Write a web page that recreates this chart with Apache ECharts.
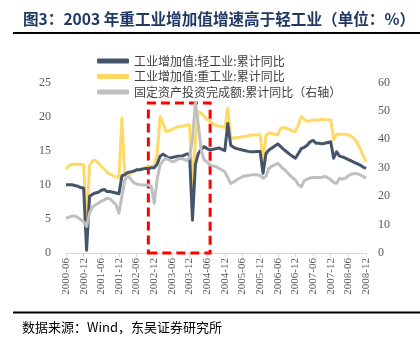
<!DOCTYPE html>
<html><head><meta charset="utf-8">
<script src="https://cdn.jsdelivr.net/npm/echarts@6/dist/echarts.min.js"></script>
<style>html,body{margin:0;padding:0;background:#fff}#c{width:420px;height:348px}</style>
</head><body><div id="c"></div>
<script>
// categories: monthly 2000-06 .. 2008-12
const categories = [];
for (let y = 2000; y <= 2008; y++) {
  for (let m = 1; m <= 12; m++) {
    if (y === 2000 && m < 6) continue;
    categories.push(y + '-' + (m < 10 ? '0' + m : '' + m));
  }
}
const seriesNames = ['工业增加值:轻工业:累计同比', '工业增加值:重工业:累计同比', '固定资产投资完成额:累计同比（右轴）'];
const lightIndustry = [
  10.0,10.0,10.0,9.9,9.8,9.6,9.5,0.4,8.3,8.6,8.8,8.9,
  9.2,9.3,9.0,9.0,8.9,8.8,8.7,11.3,11.5,11.8,11.9,12.0,
  12.2,12.2,12.3,12.4,12.4,12.5,12.5,13.0,14.2,14.5,14.2,13.9,
  14.0,14.1,14.2,14.2,14.3,14.5,14.5,4.8,13.0,14.6,15.2,15.6,
  15.3,15.1,15.2,15.3,15.4,15.2,15.0,19.0,15.8,15.5,15.3,15.2,
  15.1,15.0,14.9,14.85,14.85,14.9,14.9,11.7,14.6,15.1,15.4,15.7,
  16.0,15.6,15.2,14.85,14.5,14.2,13.9,14.6,15.3,15.5,15.8,16.3,
  16.5,16.1,16.1,16.0,16.1,16.2,16.3,13.9,14.85,14.2,14.1,13.9,
  13.7,13.5,13.3,13.1,12.9,12.6,12.4
];
const heavyIndustry = [
  12.3,12.8,13.0,13.0,13.0,13.0,12.9,3.9,12.8,13.5,13.6,13.2,
  12.7,12.3,11.8,11.6,11.3,11.2,11.0,19.8,11.4,11.5,11.7,11.9,
  12.1,12.3,12.4,12.5,12.6,12.7,12.8,14.5,20.0,19.0,17.8,17.9,
  18.1,18.3,18.5,18.6,18.6,18.8,18.8,9.2,16.5,20.7,20.5,20.0,
  19.6,19.3,18.9,18.7,18.6,18.5,18.4,21.2,17.0,16.8,16.9,17.0,
  17.05,17.1,17.2,17.3,17.3,17.3,17.3,13.6,17.3,17.6,17.55,17.4,
  17.3,18.3,18.4,18.3,18.1,17.9,17.8,18.8,20.0,19.6,19.3,19.4,
  19.5,19.5,19.5,19.6,19.55,19.5,19.5,16.6,17.4,17.4,17.4,17.4,
  17.3,17.1,16.8,16.2,15.3,14.3,13.4
];
const fixedInvestment = [
  12.2,12.6,13.0,13.0,12.5,11.8,11.0,9.3,14.0,16.3,16.9,17.5,
  18.2,18.7,19.3,19.0,18.0,17.0,14.0,20.0,25.7,27.1,26.0,24.8,
  24.3,24.0,23.9,23.9,23.9,23.5,17.5,26.0,31.0,32.5,33.3,32.8,
  32.1,32.3,33.0,33.3,33.0,32.5,33.5,40.0,53.0,45.0,36.0,32.7,
  32.0,31.0,30.6,30.4,29.8,29.2,28.6,26.5,24.5,25.0,25.7,26.3,
  26.9,27.1,27.3,27.5,27.5,27.5,27.3,26.3,27.0,29.8,30.5,31.0,
  31.6,30.5,29.5,28.6,27.5,26.5,25.7,24.0,23.3,25.5,26.0,26.4,
  26.6,26.6,26.6,26.6,27.0,26.5,25.8,24.8,24.5,26.3,26.0,26.3,
  27.2,27.7,28.0,27.9,27.5,27.0,26.3
];
const leftTicks = {min: 0, max: 25, interval: 5};
const rightTicks = {min: 0, max: 60, interval: 10};
const highlightRange = ['2002-10', '2004-07'];
const highlightTop = 22;

const chart = echarts.init(document.getElementById('c'), null, {renderer: 'canvas'});
const serif = 'Liberation Serif';
const cjk = 'Noto Sans CJK SC';
const axisText = {color: '#595959', fontFamily: serif, fontSize: 12};
chart.setOption({
  animation: false,
  backgroundColor: '#fff',
  title: {
    text: '图3：2003 年重工业增加值增速高于轻工业（单位：%）',
    left: 18, top: 6,
    textStyle: {fontSize: 15.6, fontWeight: 'bold', color: '#1F3864', fontFamily: cjk}
  },
  legend: {
    orient: 'vertical', left: 92, top: 50,
    itemWidth: 32, itemHeight: 5, itemGap: 3.5,
    icon: 'roundRect',
    textStyle: {fontSize: 12, lineHeight: 12, color: '#404040', fontFamily: cjk},
    data: seriesNames
  },
  grid: {left: 66, right: 54, top: 82.5, bottom: 95},
  xAxis: {
    type: 'category', data: categories, boundaryGap: false,
    axisLine: {lineStyle: {color: '#D9D9D9', width: 1}},
    axisTick: {interval: 5, length: 4, lineStyle: {color: '#D9D9D9'}},
    axisLabel: {interval: 5, rotate: 90, margin: 5, color: '#595959', fontFamily: serif, fontSize: 11}
  },
  yAxis: [
    Object.assign({type: 'value', axisLine: {show: false}, axisTick: {show: false}, splitLine: {show: false},
      axisLabel: Object.assign({margin: 15}, axisText)}, leftTicks),
    Object.assign({type: 'value', position: 'right', axisLine: {show: false}, axisTick: {show: false}, splitLine: {show: false},
      axisLabel: Object.assign({margin: 12}, axisText)}, rightTicks)
  ],
  series: [
    {name: seriesNames[0], type: 'line', data: lightIndustry, yAxisIndex: 0, symbol: 'none',
      lineStyle: {width: 3, color: '#44546A', join: 'round'}, itemStyle: {color: '#44546A'}, z: 3,
      markArea: {silent: true,
        itemStyle: {color: 'rgba(0,0,0,0)', borderColor: '#FF0000', borderWidth: 3, borderType: [9, 5]},
        data: [[{xAxis: highlightRange[0], yAxis: 0}, {xAxis: highlightRange[1], yAxis: highlightTop}]]}},
    {name: seriesNames[1], type: 'line', data: heavyIndustry, yAxisIndex: 0, symbol: 'none',
      lineStyle: {width: 3, color: '#FFD966', join: 'round'}, itemStyle: {color: '#FFD966'}, z: 2},
    {name: seriesNames[2], type: 'line', data: fixedInvestment, yAxisIndex: 1, symbol: 'none',
      lineStyle: {width: 3, color: '#BFBFBF', join: 'round'}, itemStyle: {color: '#BFBFBF'}, z: 4}
  ],
  graphic: [
    {type: 'line', shape: {x1: 13, y1: 33, x2: 420, y2: 33}, style: {stroke: '#000', lineWidth: 2}},
    {type: 'line', shape: {x1: 13, y1: 312.5, x2: 420, y2: 312.5}, style: {stroke: '#000', lineWidth: 2}},
    {type: 'text', left: 22, top: 321, style: {text: '数据来源：Wind，东吴证券研究所', fill: '#000', font: '13px Noto Sans CJK SC'}}
  ]
});
</script></body></html>
